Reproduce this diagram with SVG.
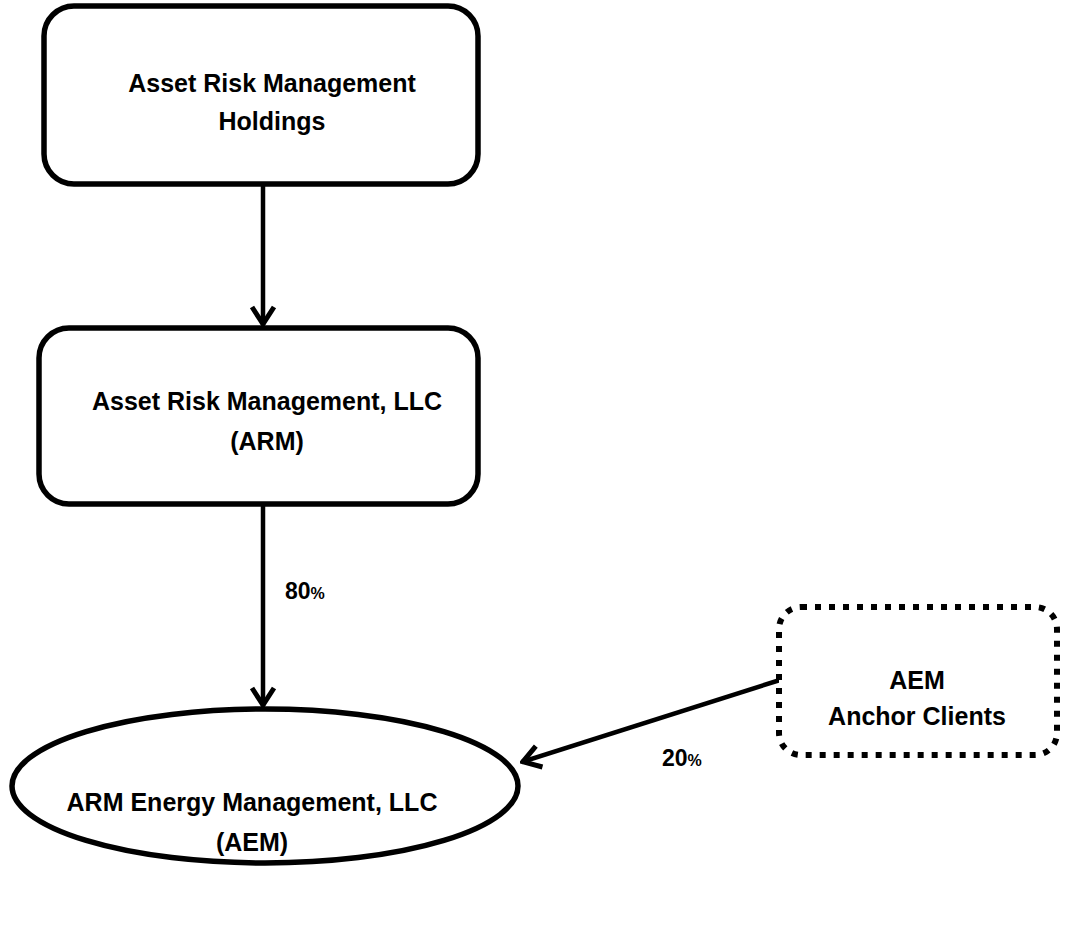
<svg xmlns="http://www.w3.org/2000/svg" width="1068" height="928" viewBox="0 0 1068 928">
<style>
.box{fill:#fff;stroke:#000;stroke-width:5.5}
.dot{fill:#fff;stroke:#000;stroke-width:6;stroke-dasharray:6 8}
.t{font-family:"Liberation Sans",Arial,sans-serif;font-weight:bold;font-size:25px;text-anchor:middle;fill:#000}
.p{font-size:23px;text-anchor:start}
.c{stroke:#000;stroke-width:4.5;fill:none}
</style>
<defs>
<marker id="ah" viewBox="0 0 24 28" refX="22" refY="14" markerWidth="24" markerHeight="28" markerUnits="userSpaceOnUse" orient="auto">
<polyline points="4,3 21,14 4,25" fill="none" stroke="#000" stroke-width="5" stroke-linejoin="miter"/>
</marker>
</defs>
<rect width="1068" height="928" fill="#fff"/>
<g id="connectors">
<line class="c" x1="263" y1="186" x2="263" y2="325" marker-end="url(#ah)"/>
<line class="c" x1="263" y1="506" x2="263" y2="706" marker-end="url(#ah)"/>
<line class="c" x1="780" y1="680" x2="522" y2="762" marker-end="url(#ah)"/>
<text class="t p" x="285" y="599">80<tspan style="font-size:16px">%</tspan></text>
<text class="t p" x="662" y="766">20<tspan style="font-size:16px">%</tspan></text>
</g>
<g id="n1">
<rect class="box" x="44" y="6" width="434" height="178" rx="30"/>
<text class="t" x="272" y="92">Asset Risk Management</text>
<text class="t" x="272" y="130">Holdings</text>
</g>
<g id="n2">
<rect class="box" x="39" y="328" width="439" height="176" rx="30"/>
<text class="t" x="267" y="410">Asset Risk Management, LLC</text>
<text class="t" x="267" y="450">(ARM)</text>
</g>
<g id="n3">
<ellipse class="box" cx="265" cy="786" rx="253" ry="77"/>
<text class="t" x="252" y="811">ARM Energy Management, LLC</text>
<text class="t" x="252" y="851">(AEM)</text>
</g>
<g id="n4">
<rect class="dot" x="779" y="607" width="278" height="148" rx="22"/>
<text class="t" x="917" y="689">AEM</text>
<text class="t" x="917" y="725">Anchor Clients</text>
</g>
</svg>
